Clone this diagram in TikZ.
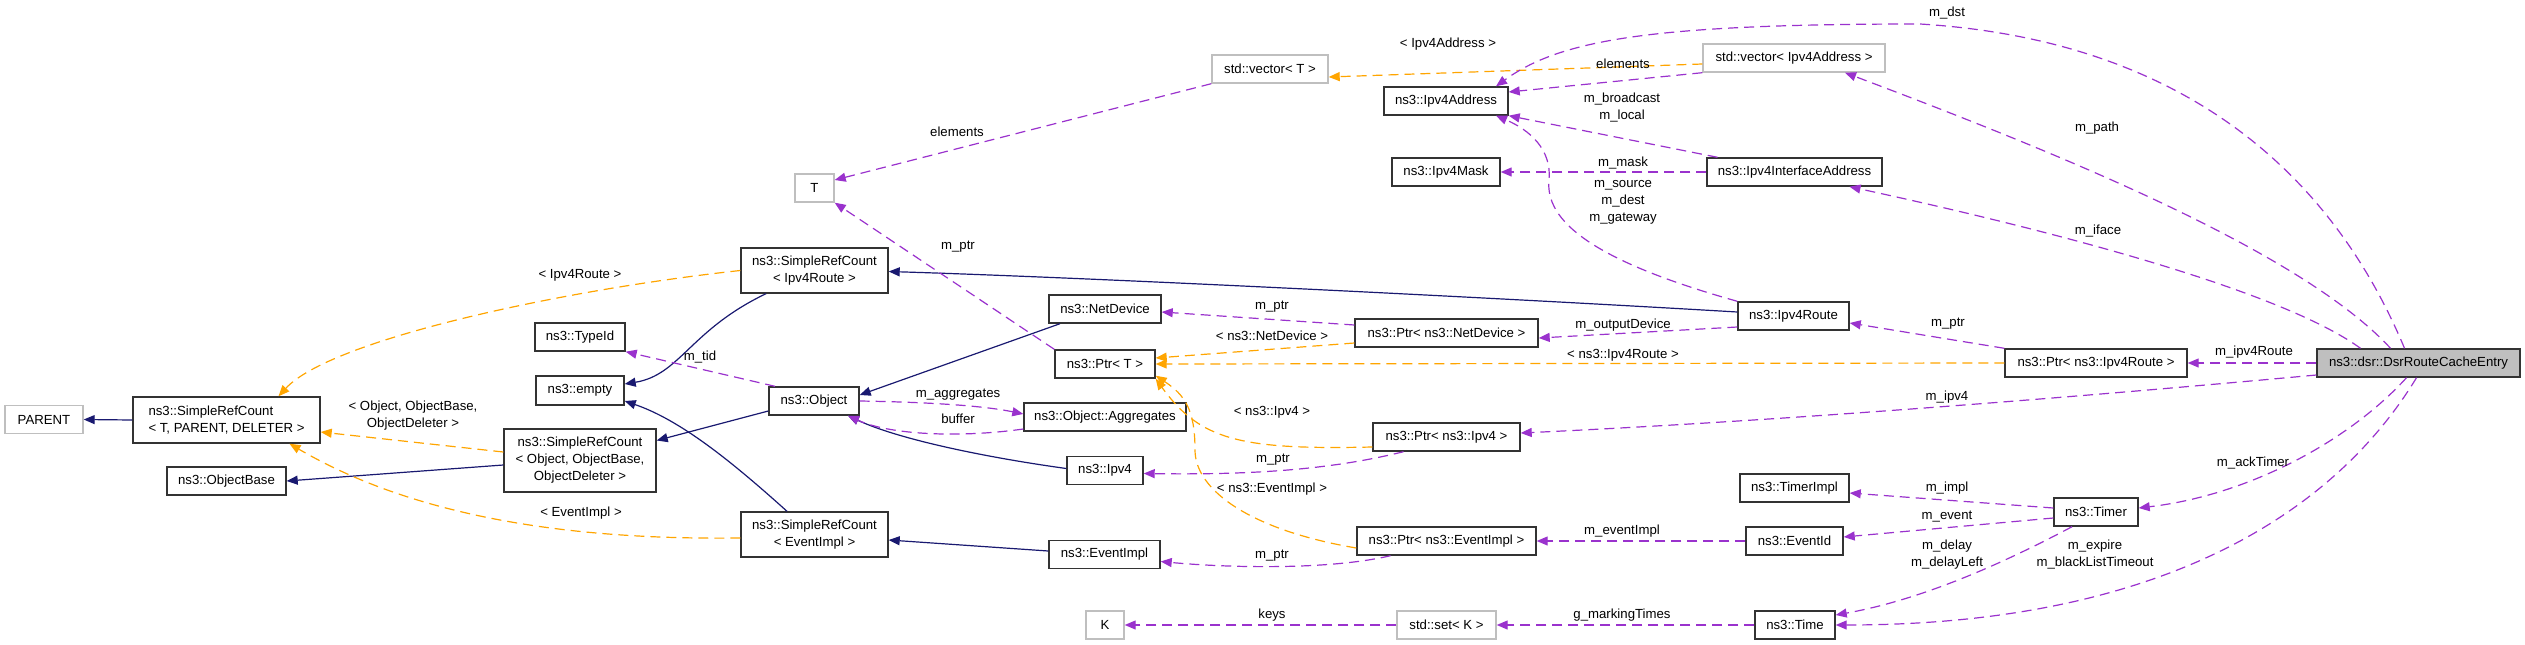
\documentclass[tikz,border=0pt]{standalone}
\usepackage{fontspec}
\setmainfont{Liberation Sans}
\usetikzlibrary{arrows.meta}
\definecolor{inhblue}{HTML}{191970}
\definecolor{usepurple}{HTML}{9A32CD}
\definecolor{tplorange}{HTML}{FFA500}
\definecolor{extgray}{HTML}{BFBFBF}
\begin{document}
\begin{tikzpicture}[x=1pt,y=-1pt,font=\fontsize{13.2}{17}\selectfont,
  box/.style={draw=black!80,line width=1.4pt,minimum height=28pt,inner sep=2pt,align=center},
  ext/.style={box,draw=extgray},
  focus/.style={box,fill=extgray},
  inh/.style={draw=inhblue,line width=1.2pt,-{Triangle[length=11pt,width=9pt]}},
  use/.style={draw=usepurple,line width=1.2pt,dash pattern=on 10pt off 6pt,-{Triangle[length=11pt,width=9pt]}},
  tpl/.style={use,draw=tplorange},
  lbl/.style={inner sep=1pt,align=center}]
\useasboundingbox (0,0) rectangle (2525,645);

\node[ext,minimum width=78pt] (parent) at (44,419.5) {PARENT};
\node[box,minimum width=187pt,minimum height=46pt,align=left] (srcTPD) at (226.5,420) {ns3::SimpleRefCount\\< T, PARENT, DELETER >};
\node[box,minimum width=119pt] (objbase) at (226.5,481) {ns3::ObjectBase};
\node[box,minimum width=90pt] (typeid) at (580,337) {ns3::TypeId};
\node[box,minimum width=88pt,minimum height=29pt] (empty) at (580,390.5) {ns3::empty};
\node[box,minimum width=152pt,minimum height=63pt] (srcObj) at (580,460.5) {ns3::SimpleRefCount\\< Object, ObjectBase,\\ObjectDeleter >};
\node[ext,minimum width=39pt] (T) at (814.5,188) {T};
\node[box,minimum width=147pt,minimum height=45pt] (srcRoute) at (814.5,270.5) {ns3::SimpleRefCount\\< Ipv4Route >};
\node[box,minimum width=90pt] (object) at (814,401) {ns3::Object};
\node[box,minimum width=147pt,minimum height=45pt] (srcEv) at (814.5,534.5) {ns3::SimpleRefCount\\< EventImpl >};
\node[ext,minimum width=116pt] (vecT) at (1270,69) {std::vector< T >};
\node[box,minimum width=112pt] (netdev) at (1105,309) {ns3::NetDevice};
\node[box,minimum width=100pt] (ptrT) at (1105,364) {ns3::Ptr< T >};
\node[box,minimum width=162pt] (aggr) at (1105,417) {ns3::Object::Aggregates};
\node[box,minimum width=76pt] (ipv4) at (1105,470.5) {ns3::Ipv4};
\node[box,minimum width=111pt] (evimpl) at (1104.5,554.5) {ns3::EventImpl};
\node[ext,minimum width=38pt] (K) at (1105,625) {K};
\node[box,minimum width=124pt] (ipv4addr) at (1446,101) {ns3::Ipv4Address};
\node[box,minimum width=108pt] (ipv4mask) at (1446,172) {ns3::Ipv4Mask};
\node[box,minimum width=183pt] (ptrDev) at (1446.5,333) {ns3::Ptr< ns3::NetDevice >};
\node[box,minimum width=147pt] (ptrIpv4) at (1446.5,437) {ns3::Ptr< ns3::Ipv4 >};
\node[box,minimum width=179pt] (ptrEv) at (1446.5,541) {ns3::Ptr< ns3::EventImpl >};
\node[ext,minimum width=99pt] (setK) at (1446.5,625) {std::set< K >};
\node[ext,minimum width=182pt] (vecAddr) at (1794,58) {std::vector< Ipv4Address >};
\node[box,minimum width=175pt] (ifaddr) at (1794.5,172) {ns3::Ipv4InterfaceAddress};
\node[box,minimum width=111pt] (route) at (1793.5,316) {ns3::Ipv4Route};
\node[box,minimum width=109pt] (timerimpl) at (1794.5,488) {ns3::TimerImpl};
\node[box,minimum width=97pt] (eventid) at (1794.5,541) {ns3::EventId};
\node[box,minimum width=80pt] (time) at (1795,625) {ns3::Time};
\node[box,minimum width=182pt] (ptrRoute) at (2096,363) {ns3::Ptr< ns3::Ipv4Route >};
\node[box,minimum width=84pt] (timer) at (2096,512) {ns3::Timer};
\node[focus,minimum width=203pt] (entry) at (2418.5,363) {ns3::dsr::DsrRouteCacheEntry};

\draw[inh] (srcTPD.west) -- (parent.east);
\draw[inh] ([yshift=-4.5pt]srcObj.west) -- (objbase.east);
\draw[inh] ([xshift=-48.5pt]srcRoute.south) .. controls (690,330) and (680,375) .. ([yshift=6.5pt]empty.east);
\draw[inh] ([xshift=-27.5pt]srcEv.north) .. controls (730,460) and (680,420) .. ([yshift=-10.5pt]empty.east);
\draw[inh] ([yshift=-10pt]object.west) -- ([yshift=20pt]srcObj.east);
\draw[inh] ([xshift=-45pt]netdev.south) -- ([yshift=6pt]object.east);
\draw[inh] ([yshift=2pt]ipv4.west) .. controls (990,458) and (900,440) .. ([xshift=34pt]object.south);
\draw[inh] ([yshift=4pt]route.west) .. controls (1500,298) and (1100,278) .. ([yshift=-1pt]srcRoute.east);
\draw[inh] ([yshift=3.5pt]evimpl.west) -- ([yshift=-5.5pt]srcEv.east);

\draw[tpl] (srcRoute.west) .. controls (560,290) and (330,340) .. ([xshift=52pt]srcTPD.north);
\draw[tpl] ([yshift=8.5pt]srcObj.west) -- ([yshift=-12pt]srcTPD.east);
\draw[tpl] ([yshift=-3.5pt]srcEv.west) .. controls (580,540) and (420,520) .. ([xshift=63pt]srcTPD.south);
\draw[tpl] ([yshift=-6pt]vecAddr.west) -- ([yshift=-8pt]vecT.east);
\draw[tpl] (ptrRoute.west) -- (ptrT.east);
\draw[tpl] ([yshift=-10pt]ptrDev.west) -- ([yshift=6pt]ptrT.east);
\draw[tpl] ([yshift=-10pt]ptrIpv4.west) .. controls (1240,450) and (1200,440) .. (ptrT.south east);
\draw[tpl] ([yshift=-7pt]ptrEv.west) .. controls (1250,530) and (1195,490) .. (1195,450) .. controls (1195,410) and (1185,395) .. ([yshift=3pt]ptrT.south east);

\draw[use] (vecT.south west) -- ([yshift=8pt]T.east);
\draw[use] (ptrT.north west) -- (T.south east);
\draw[use] ([xshift=-39pt]object.north) -- (typeid.south east);
\draw[use] (object.east) .. controls (920,402) and (980,405) .. ([yshift=3pt]aggr.west);
\draw[use] ([yshift=-12pt]aggr.west) .. controls (960,438) and (890,435) .. ([xshift=34pt]object.south);
\draw[use] (vecAddr.south west) -- ([yshift=9pt]ipv4addr.east);
\draw[use] ([xshift=-77pt]ifaddr.north) -- (ipv4addr.south east);
\draw[use] (ifaddr.west) -- (ipv4mask.east);
\draw[use] (route.north west) .. controls (1590,260) and (1545,220) .. (1549,180) .. controls (1552,150) and (1530,130) .. ([xshift=50pt]ipv4addr.south);
\draw[use] ([yshift=-11pt]route.west) -- ([yshift=-5pt]ptrDev.east);
\draw[use] ([yshift=8pt]ptrDev.west) -- ([yshift=-3pt]netdev.east);
\draw[use] ([xshift=-43pt]ptrIpv4.south) .. controls (1330,470) and (1250,475) .. ([yshift=-3pt]ipv4.east);
\draw[use] ([xshift=-56pt]ptrEv.south) .. controls (1330,570) and (1230,568) .. ([yshift=-7pt]evimpl.east);
\draw[use] (eventid.west) -- (ptrEv.east);
\draw[use] (time.west) -- (setK.east);
\draw[use] (setK.west) -- (K.east);
\draw[use] (ptrRoute.north west) -- ([yshift=-7pt]route.east);
\draw[use] ([yshift=4pt]timer.west) -- ([yshift=-5pt]timerimpl.east);
\draw[use] ([yshift=-6pt]timer.west) -- ([yshift=4pt]eventid.east);
\draw[use] ([xshift=-24pt]timer.south) .. controls (2000,565) and (1920,600) .. ([yshift=10pt]time.east);
\draw[use] ([xshift=-14pt]entry.north) .. controls (2330,170) and (2180,40) .. (1920,24) .. controls (1650,24) and (1560,40) .. ([xshift=50pt]ipv4addr.north);
\draw[use] ([xshift=-28pt]entry.north) .. controls (2300,250) and (2050,150) .. ([xshift=51pt]vecAddr.south);
\draw[use] ([xshift=-58pt]entry.north) .. controls (2280,290) and (2050,230) .. ([xshift=55pt]ifaddr.south);
\draw[use] (entry.west) -- (ptrRoute.east);
\draw[use] ([yshift=-12pt]entry.west) .. controls (2100,395) and (1800,420) .. ([yshift=4pt]ptrIpv4.east);
\draw[use] ([xshift=-12pt]entry.south) .. controls (2350,440) and (2250,495) .. ([yshift=4pt]timer.east);
\draw[use] ([xshift=-2pt]entry.south) .. controls (2330,520) and (2150,625) .. (time.east);

\node[lbl] (l-route) at (580,275) {< Ipv4Route >};
\node[lbl] (l-obj) at (413,416) {< Object, ObjectBase,\\ObjectDeleter >};
\node[lbl] (l-ev) at (581,513) {< EventImpl >};
\node[lbl] (l-elemT) at (957,132) {elements};
\node[lbl] (l-ptrT) at (958,247) {m\_ptr};
\node[lbl] (l-tid) at (700,357) {m\_tid};
\node[lbl] (l-aggr) at (958,395) {m\_aggregates};
\node[lbl] (l-buffer) at (958,419) {buffer};
\node[lbl] (l-addr) at (1448,44) {< Ipv4Address >};
\node[lbl] (l-elemA) at (1623,64) {elements};
\node[lbl] (l-bcast) at (1622,108) {m\_broadcast\\m\_local};
\node[lbl] (l-mask) at (1623,163) {m\_mask};
\node[lbl] (l-src) at (1623,202) {m\_source\\m\_dest\\m\_gateway};
\node[lbl] (l-outdev) at (1623,325) {m\_outputDevice};
\node[lbl] (l-ptrDev) at (1272,307) {m\_ptr};
\node[lbl] (l-netdev) at (1272,336) {< ns3::NetDevice >};
\node[lbl] (l-ipv4route) at (1623,355) {< ns3::Ipv4Route >};
\node[lbl] (l-ipv4) at (1272,412) {< ns3::Ipv4 >};
\node[lbl] (l-ptrIpv4) at (1273,460) {m\_ptr};
\node[lbl] (l-evimpl) at (1272,489) {< ns3::EventImpl >};
\node[lbl] (l-evptr) at (1622,531) {m\_eventImpl};
\node[lbl] (l-ptrEv) at (1272,556) {m\_ptr};
\node[lbl] (l-keys) at (1272,615) {keys};
\node[lbl] (l-marking) at (1622,615) {g\_markingTimes};
\node[lbl] (l-dst) at (1947,13) {m\_dst};
\node[lbl] (l-path) at (2097,128) {m\_path};
\node[lbl] (l-iface) at (2098,231) {m\_iface};
\node[lbl] (l-ptrRoute) at (1948,324) {m\_ptr};
\node[lbl] (l-ipv4Route) at (2254,352) {m\_ipv4Route};
\node[lbl] (l-ipv4m) at (1947,397) {m\_ipv4};
\node[lbl] (l-ack) at (2253,463) {m\_ackTimer};
\node[lbl] (l-impl) at (1947,488) {m\_impl};
\node[lbl] (l-event) at (1947,517) {m\_event};
\node[lbl] (l-delay) at (1947,555) {m\_delay\\m\_delayLeft};
\node[lbl] (l-expire) at (2095,555) {m\_expire\\m\_blackListTimeout};
\end{tikzpicture}
\end{document}
